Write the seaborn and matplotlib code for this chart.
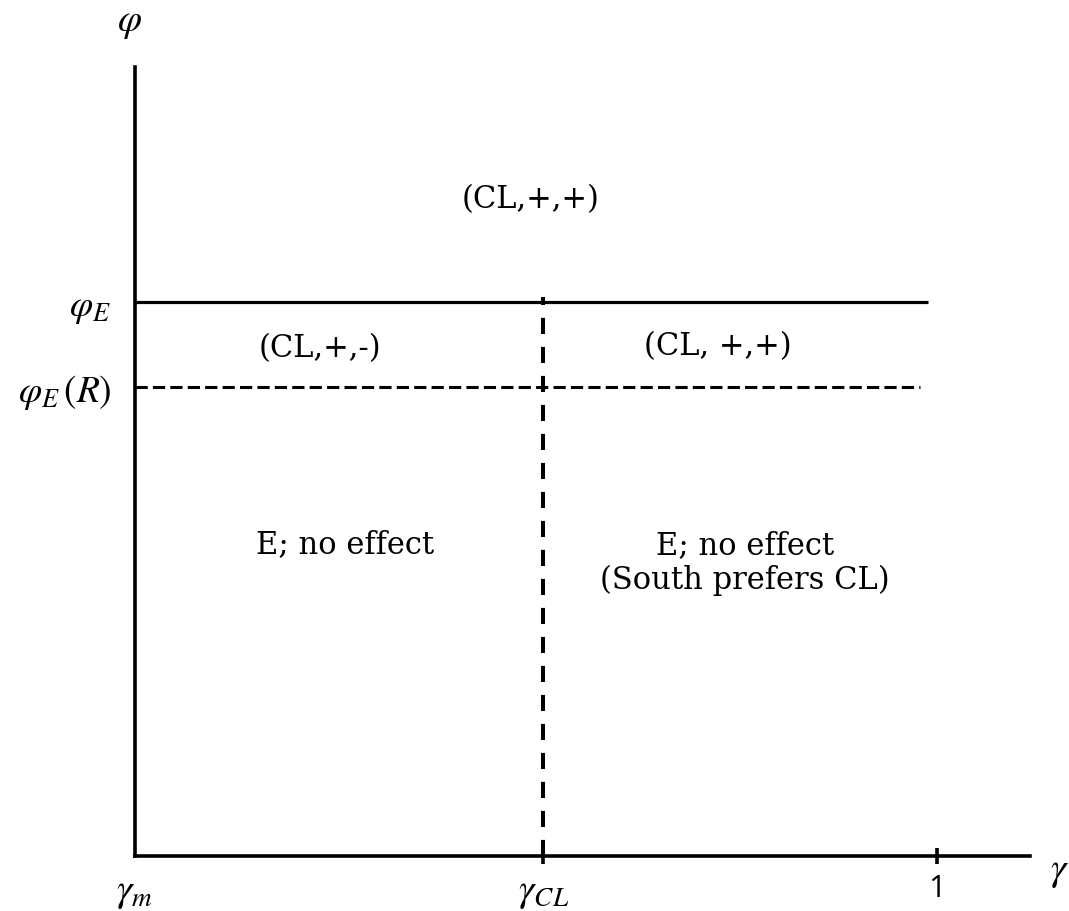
import pandas as pd
import matplotlib
matplotlib.use("Agg")
import matplotlib.pyplot as plt
import seaborn as sns

# --- Thresholds of the (gamma, phi) regime diagram ---------------------------
GAMMA_M = 0.0
GAMMA_CL = 0.509
GAMMA_ONE = 1.0
GAMMA_MAX = 1.116          # right end of the gamma axis
PHI_E = 1.0
PHI_E_R = 0.847
PHI_MAX = 1.424            # top of the phi axis

X_TICKS = [GAMMA_M, GAMMA_CL, GAMMA_ONE]
X_TICKLABELS = [r"$\gamma_m$", r"$\gamma_{CL}$", "1"]
Y_TICKS = [PHI_E_R, PHI_E]
Y_TICKLABELS = [r"$\varphi_E\,(R)$", r"$\varphi_E$"]

REGION_LABELS = ["(CL,+,+)", "(CL,+,-)", "(CL, +,+)",
                 "E; no effect", "E; no effect\n(South prefers CL)"]

# boundary lines, long form
lines = pd.DataFrame({
    "boundary": ["phiE", "phiE", "phiER", "phiER", "gcl", "gcl"],
    "gamma": [GAMMA_M, 0.989, GAMMA_M, 0.979, GAMMA_CL, GAMMA_CL],
    "phi": [PHI_E, PHI_E, PHI_E_R, PHI_E_R, 0.0, 1.009],
})

sns.set_theme(style="white")
plt.rcParams.update({
    "font.family": ["DejaVu Serif"],
    "mathtext.fontset": "stix",
    "text.color": "black",
})

fig = plt.figure(figsize=(10.69, 9.12), dpi=100)
ax = fig.add_axes([135 / 1069, 55 / 912, 895 / 1069, 789 / 912])

styles = {
    "phiE": dict(lw=2.3, ls="-"),
    "phiER": dict(lw=2.2, ls=(0, (4.0, 1.7))),
    "gcl": dict(lw=2.9, ls=(0, (4.0, 3.2))),
}
for name, grp in lines.groupby("boundary", sort=False):
    st = styles[name]
    sns.lineplot(data=grp, x="gamma", y="phi", sort=False, estimator=None,
                 color="black", lw=st["lw"], linestyle=st["ls"], ax=ax,
                 solid_capstyle="butt", dash_capstyle="butt")

ax.set_xlim(GAMMA_M, GAMMA_MAX)
ax.set_ylim(0, PHI_MAX)
for side in ["top", "right"]:
    ax.spines[side].set_visible(False)
for side in ["left", "bottom"]:
    ax.spines[side].set_linewidth(2.6)
    ax.spines[side].set_color("black")

ax.set_xticks(X_TICKS)
ax.set_xticklabels(X_TICKLABELS)
ax.set_yticks(Y_TICKS)
ax.set_yticklabels(Y_TICKLABELS)
ax.tick_params(axis="x", bottom=True, direction="inout", length=12, width=2.6,
               color="black", labelcolor="black", pad=6, labelsize=28)
ax.tick_params(axis="y", left=False, length=0, pad=17, labelsize=27,
               labelcolor="black")
ax.xaxis.get_major_ticks()[0].tick1line.set_visible(False)
ax.get_xticklabels()[2].set_fontfamily("Open Sans")
ax.get_xticklabels()[2].set_fontsize(22)

ax.set_xlabel(r"$\gamma$", fontsize=28, color="black")
ax.xaxis.set_label_coords(1.033, 0.005)
ax.set_ylabel(r"$\varphi$", fontsize=28, rotation=0, color="black",
              va="center")
ax.yaxis.set_label_coords(-0.006, 1.058)

txt = dict(ha="center", va="center", fontsize=22, color="black")
ax.text(0.493, 1.186, REGION_LABELS[0], **txt)
ax.text(0.231, 0.918, REGION_LABELS[1], **txt)
ax.text(0.727, 0.921, REGION_LABELS[2], **txt)
ax.text(0.262, 0.563, REGION_LABELS[3], **txt)
ax.text(0.761, 0.531, REGION_LABELS[4], linespacing=1.15, **txt)

fig.savefig("out.png", dpi=100, facecolor="white")
